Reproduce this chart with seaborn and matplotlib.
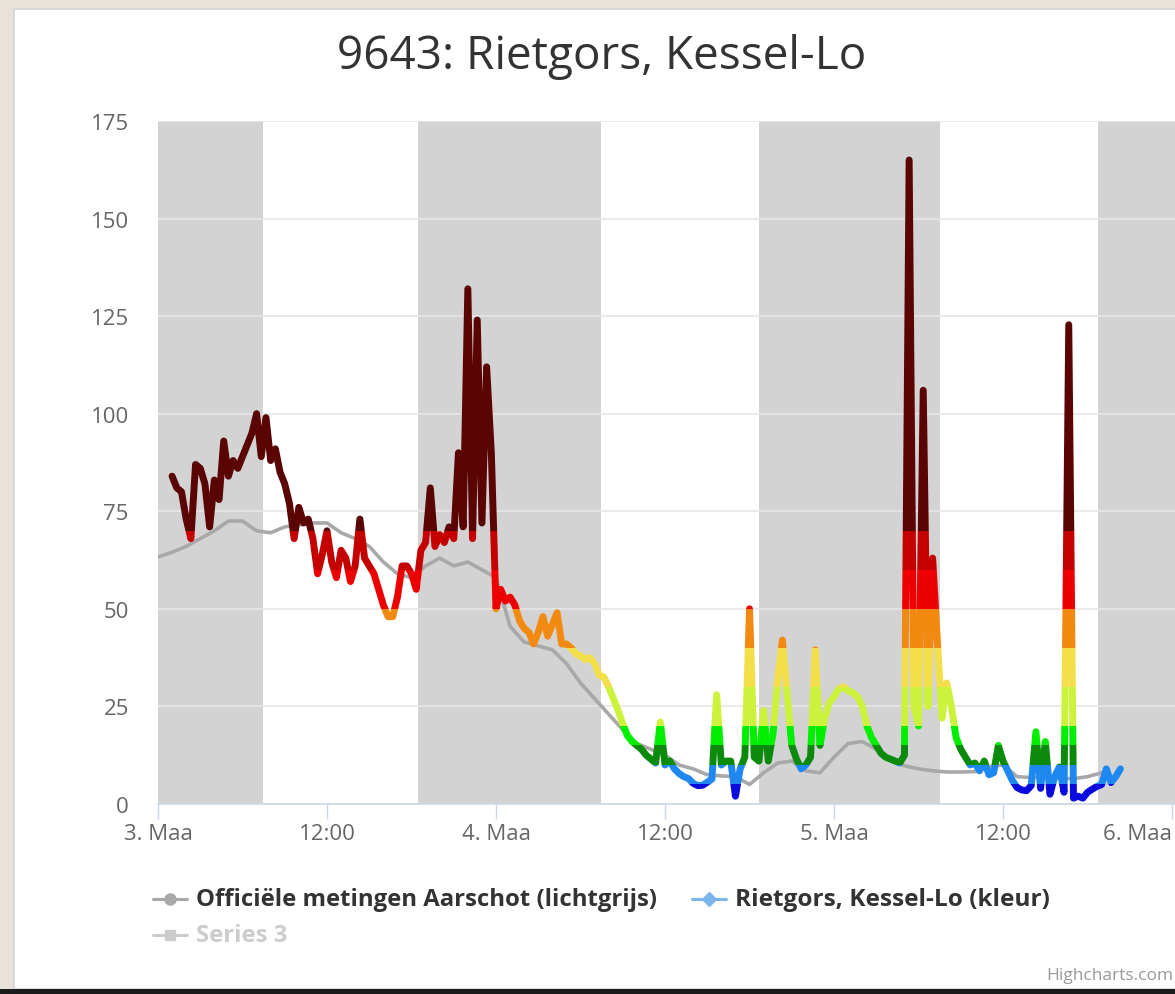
import numpy as np
import matplotlib
matplotlib.use("Agg")
import matplotlib.pyplot as plt
from matplotlib.patches import Rectangle
from matplotlib.lines import Line2D
import seaborn as sns

# ---------------- data ----------------
title_text = "9643: Rietgors, Kessel-Lo"
x_tick_hours = [0, 12, 24, 36, 48, 60, 72]
x_tick_labels = ["3. Maa", "12:00", "4. Maa", "12:00", "5. Maa", "12:00", "6. Maa"]
y_tick_values = [0, 25, 50, 75, 100, 125, 150, 175]

# night plot bands (hours after 3 March 00:00)
night_start_hours = [0.0, 18.45, 42.65, 66.75]
night_end_hours = [7.45, 31.45, 55.5, 80.0]

aarschot_name = "Officiële metingen Aarschot (lichtgrijs)"
aarschot_start_hour = 0.0
aarschot_step_hours = 1.0
aarschot_values = [63.3, 64.5, 66, 68, 70, 72.5, 72.5, 70, 69.5, 71, 71.5, 72, 72,
                   69.5, 68, 66, 62, 59, 58, 61, 63, 61, 62, 60, 58, 45.5, 41.5,
                   40.5, 39.5, 36, 31, 27, 23, 19, 15.5, 14, 12.5, 10, 9, 7.5, 7.2,
                   7, 5, 8, 10.5, 11, 8.5, 8, 12, 15.5, 16, 14, 11.5, 9.8, 9, 8.5,
                   8.2, 8.2, 8.3, 9.5, 10, 7, 6.8, 6.8, 6.5, 6.5, 7, 8]

rietgors_name = "Rietgors, Kessel-Lo (kleur)"
rietgors_start_hour = 1.0
rietgors_step_hours = 1.0 / 3.0
rietgors_values = [
    84, 81, 80, 73, 68, 87, 86, 82, 71, 83, 78, 93, 84, 88, 86, 89, 92, 95, 100, 89,
    99, 88, 91, 85, 82, 77, 68, 76, 72, 73, 68, 59, 64, 70, 62, 58, 65, 63, 57, 61,
    73, 63, 61, 59, 55, 51, 48, 48, 53, 61, 61, 59, 55, 65, 67, 81, 66, 69, 67, 71,
    68, 90, 71, 132, 68, 124, 72, 112, 90, 50, 55, 52, 53, 51, 47, 45, 44, 41, 44, 48,
    43, 46, 49, 41, 41, 40, 38.5, 38, 37, 37.5, 36, 33, 32.5, 30, 27, 24, 20.5, 17.5, 16, 15,
    14, 12.5, 11.5, 10.5, 21, 10, 11, 9, 7.8, 7, 6.5, 5.3, 4.7, 4.8, 5.6, 6.4, 28, 10, 11, 11,
    2, 9, 12, 50, 12, 11, 24, 11, 18, 32, 42, 28, 15, 11.5, 9, 10, 12, 39.5, 15, 22,
    26, 27.5, 29.5, 30, 29, 28.5, 27.5, 25, 20, 17, 15, 13, 12, 11.5, 11, 10.5, 12.5, 165,
    25, 20, 106, 25, 63, 42, 22, 31, 25, 17, 14, 12, 10, 10.5, 8.5, 11, 7.5, 8, 15, 11,
    8.5, 6, 4.2, 3.6, 3.4, 4.7, 18.5, 4, 16, 2.5, 7, 9.5, 3, 122.8, 1.5, 2, 1.5, 3, 3.8, 4.5,
    5, 9, 5.5, 7, 9]

series3_name = "Series 3"

# colour zones for the Rietgors series
zone_edges = [5, 10, 15, 20, 30, 40, 50, 60, 70]
zone_colors = ["#0a0adc", "#1e88f0", "#0b8a0b", "#00ee00", "#cdf23c",
               "#f3df4a", "#f28a12", "#ee0000", "#c40000", "#5a0404"]

# ---------------- styling ----------------
sns.set_theme(style="white")
plt.rcParams["font.family"] = ["Open Sans", "DejaVu Sans"]

W, H = 1175, 995
fig = plt.figure(figsize=(W / 100, H / 100), dpi=100)
fig.patch.set_facecolor("#e9e2d8")


def fx(px):
    return px / W


def fy(py):
    return 1 - py / H


# white card and dark bottom edge
fig.patches.append(Rectangle((fx(14), fy(990)), 1, fy(10) - fy(990), transform=fig.transFigure,
                             facecolor="white", edgecolor="#d4d4d4", lw=1.2, zorder=-5))
fig.patches.append(Rectangle((0, 0), 1, 5 / H, transform=fig.transFigure,
                             facecolor="#1b1b1b", edgecolor="none", zorder=-4))

ax = fig.add_axes([fx(158), fy(805), 1 - fx(158), fy(122) - fy(805)])
ax.set_facecolor("white")

for s, e in zip(night_start_hours, night_end_hours):
    ax.axvspan(s, e, color="#d3d3d3", lw=0, zorder=0.2)

aarschot_hours = aarschot_start_hour + aarschot_step_hours * np.arange(len(aarschot_values))
rietgors_hours = rietgors_start_hour + rietgors_step_hours * np.arange(len(rietgors_values))

sns.lineplot(x=aarschot_hours, y=aarschot_values, ax=ax, color="#a8a8a8",
             linewidth=2.6, sort=False, estimator=None, zorder=3)
ax.lines[-1].set_solid_joinstyle("round")

lows = [-1000] + zone_edges
highs = zone_edges + [1000]
for lo, hi, c in zip(lows, highs, zone_colors):
    sns.lineplot(x=rietgors_hours, y=rietgors_values, ax=ax, color=c,
                 linewidth=5.0, sort=False, estimator=None, zorder=4)
    ln = ax.lines[-1]
    ln.set_solid_joinstyle("round")
    ln.set_solid_capstyle("round")
    ln.set_clip_path(Rectangle((-10, lo), 100, hi - lo, transform=ax.transData))

ax.set_xlim(0, 72.21)
ax.set_ylim(0, 175)
ax.set_xlabel("")
ax.set_ylabel("")

for side in ["top", "right", "left"]:
    ax.spines[side].set_visible(False)
ax.spines["bottom"].set_color("#ccd6eb")
ax.spines["bottom"].set_linewidth(1.2)
ax.spines["bottom"].set_zorder(5)

ax.set_axisbelow(True)
ax.yaxis.grid(True, color="#e6e6e6", lw=1.2)
ax.xaxis.grid(False)

ax.set_xticks(x_tick_hours)
ax.set_xticklabels(x_tick_labels)
ax.tick_params(axis="x", length=10.5, width=1, color="#ccd6eb", pad=3.5,
               labelsize=16, labelcolor="#666666", bottom=True)
xt = ax.get_xticklabels()
xt[-1].set_horizontalalignment("right")

ax.set_yticks(y_tick_values)
ax.tick_params(axis="y", length=0, pad=21, labelsize=16, labelcolor="#666666", left=False)

# title
fig.text(fx(602), fy(57), title_text, ha="center", va="center", fontsize=33, color="#333333")

# legend (Highcharts style, two items in the first row, hidden series in the second)
legend_items = [
    (153, 900, "#a8a8a8", "o", aarschot_name, "#333333"),
    (692, 900, "#7cb5ec", "D", rietgors_name, "#333333"),
    (153, 936, "#cccccc", "s", series3_name, "#cccccc"),
]
for x0, yc, col, mk, lab, tcol in legend_items:
    fig.add_artist(Line2D([fx(x0), fx(x0 + 34)], [fy(yc), fy(yc)], transform=fig.transFigure,
                          color=col, lw=2.2))
    fig.add_artist(Line2D([fx(x0 + 17)], [fy(yc)], transform=fig.transFigure,
                          color=col, marker=mk, markersize=8 if mk == "o" else 7,
                          markeredgecolor=col, lw=0))
    fig.text(fx(x0 + 43), fy(yc), lab, ha="left", va="center",
             fontsize=17.6 if x0 > 600 else 17.2, fontweight="bold", color=tcol)

fig.text(fx(1173), fy(976), "Highcharts.com", ha="right", va="center", fontsize=12.5,
         color="#999999")

fig.savefig("out.png", dpi=100, facecolor=fig.get_facecolor())
